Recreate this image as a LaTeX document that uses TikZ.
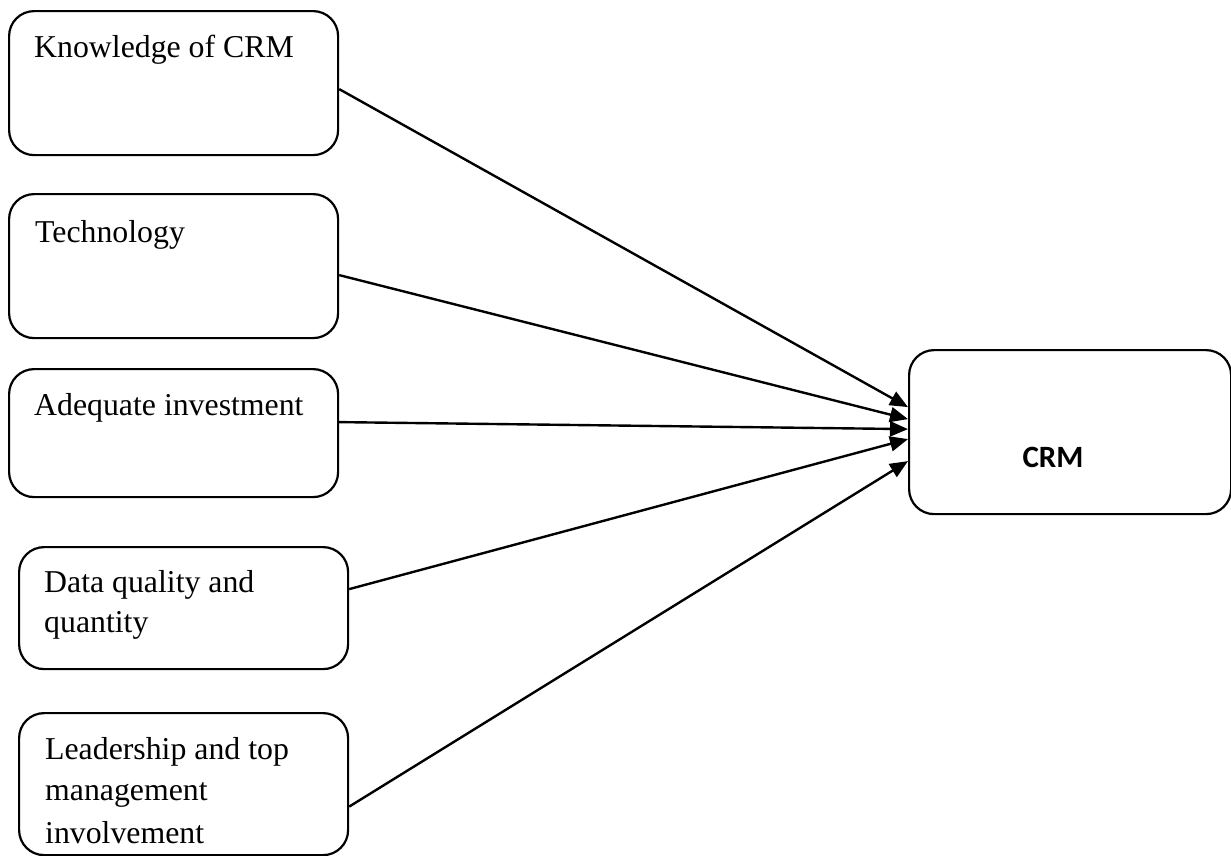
\documentclass[tikz,border=0pt]{standalone}
\usepackage{fontspec}
\setmainfont{Liberation Serif}
\newfontfamily\crmfont{Carlito}
\usetikzlibrary{arrows.meta}
\tikzset{
  box/.style={draw=black, line width=2.2pt, rounded corners=25pt, rectangle, anchor=north west, inner sep=0pt},
  lbl/.style={anchor=base west, inner sep=0pt, font=\fontsize{31.8pt}{40pt}\selectfont},
  arr/.style={line width=2.4pt, -{Triangle[length=18pt,width=15pt]}}
}
\begin{document}
\begin{tikzpicture}[x=1pt,y=-1pt]
\useasboundingbox (0,0) rectangle (1231,855);
% boxes
\node[box, minimum width=329pt, minimum height=144pt] (k) at (8,10) {};
\node[box, minimum width=329pt, minimum height=144pt] (t) at (8,193) {};
\node[box, minimum width=329pt, minimum height=128pt] (a) at (8,368) {};
\node[box, minimum width=329pt, minimum height=122pt] (d) at (18,546) {};
\node[box, minimum width=329pt, minimum height=142pt] (l) at (18,712) {};
\node[box, minimum width=322pt, minimum height=164pt] (c) at (908,349) {};
% labels
\node[lbl] (k1) at (34,57) {Knowledge of CRM};
\node[lbl] (t1) at (35,242) {Technology};
\node[lbl] (a1) at (34,415) {Adequate investment};
\node[lbl] (d1) at (44,592) {Data quality and};
\node[lbl] (d2) at (44,632) {quantity};
\node[lbl] (l1) at (45,759) {Leadership and top};
\node[lbl] (l2) at (45,800) {management};
\node[lbl] (l3) at (45,843) {involvement};
\node[inner sep=0pt, font=\crmfont\bfseries\fontsize{31pt}{34pt}\selectfont] (c1) at (1053,457) {CRM};
% arrows
\draw[arr] ([yshift=-6pt]k.east) -- ([yshift=25pt]c.west);
\draw[arr] ([yshift=-9pt]t.east) -- ([yshift=13pt]c.west);
\draw[arr] ([yshift=11pt]a.east) -- ([yshift=3pt]c.west);
\draw[arr] ([yshift=19pt]d.east) -- ([yshift=-7pt]c.west);
\draw[arr] ([yshift=-22.5pt]l.east) -- ([yshift=-29pt]c.west);
\end{tikzpicture}
\end{document}
